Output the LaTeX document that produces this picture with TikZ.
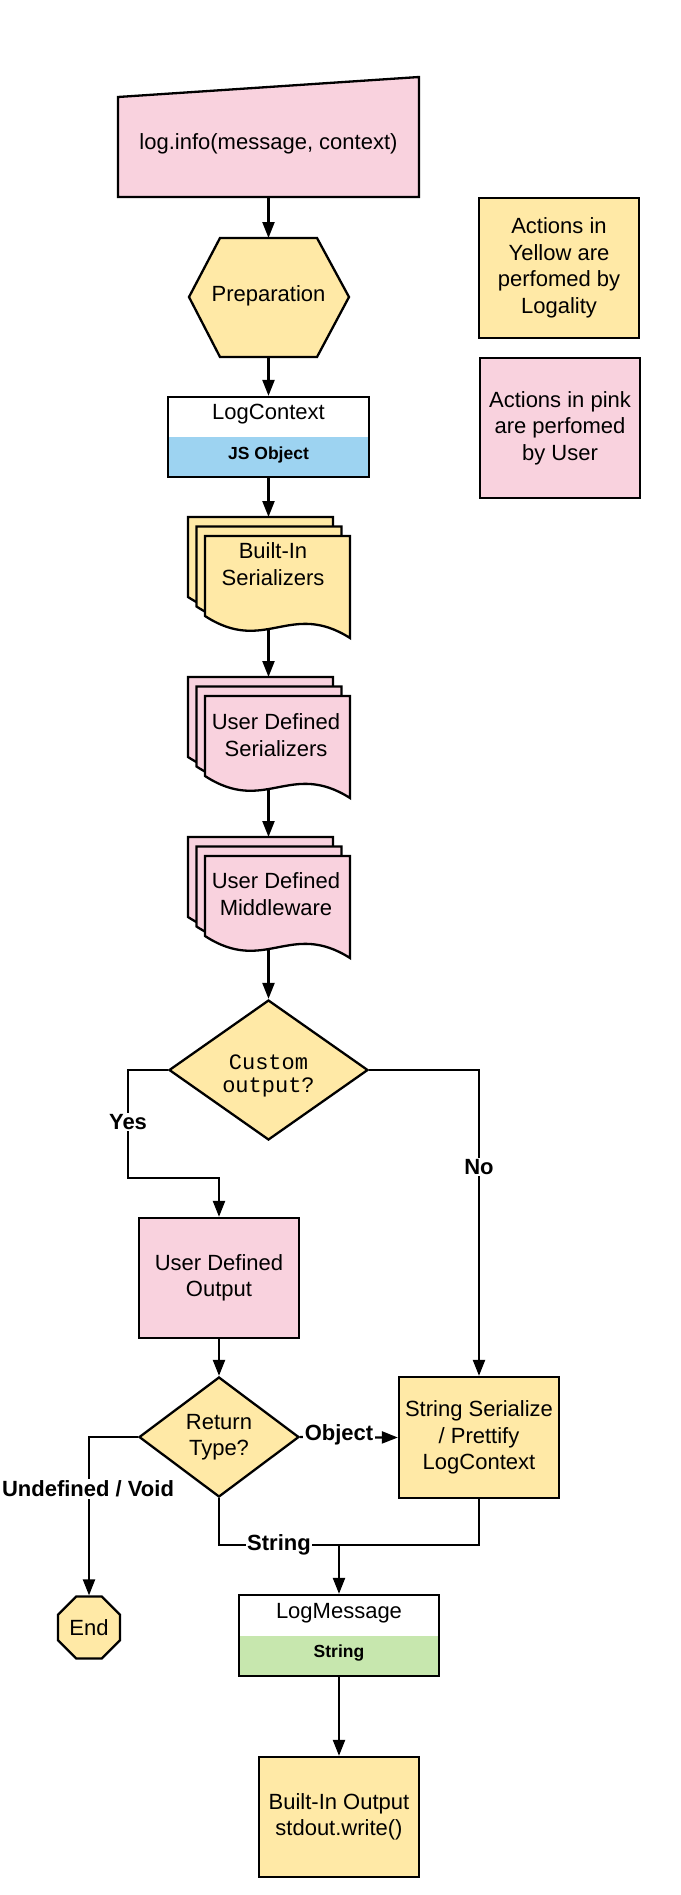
\documentclass[tikz,border=0pt]{standalone}
\usepackage{fontspec}
\setmainfont{Liberation Sans}
\newfontfamily\monof{Liberation Mono}
\usetikzlibrary{arrows.meta,shapes.geometric}
\definecolor{pinkc}{HTML}{F9D2DE}
\definecolor{yelc}{HTML}{FFE9A6}
\definecolor{bluec}{HTML}{9DD3F1}
\definecolor{greenc}{HTML}{C7E7AE}
\tikzset{
  shape line/.style={draw=black, line width=2.3pt, line join=miter},
  conn/.style={line width=2.2pt, -{Triangle[length=16pt,width=12pt]}},
  plain/.style={line width=2.2pt},
  lbl/.style={font=\fontsize{22}{26.5}\selectfont, align=center, inner sep=0pt},
  elbl/.style={font=\fontsize{22}{26.5}\selectfont\bfseries, fill=white, inner sep=1.5pt},
  band/.style={font=\fontsize{17.5}{20}\selectfont\bfseries, inner sep=0pt},
  box/.style={shape line, rectangle, inner sep=0pt, font=\fontsize{22}{26.5}\selectfont, align=center},
  bandbox/.style={box, path picture={\fill[#1] (path picture bounding box.west) rectangle (path picture bounding box.south east);}},
}
\newcommand\docstack[3]{%
  \foreach \d in {0,1,2}{%
    \filldraw[shape line, fill=#3, shift={({#1+8.5*\d},{#2+9.5*\d})}]
      (0,0) -- (145,0) -- (145,102) .. controls (85,64) and (60,119) .. (0,80) -- cycle;
  }%
}
\begin{document}
\begin{tikzpicture}[x=1pt,y=-1pt]
\fill[white] (0,0) rectangle (680,1895);
\useasboundingbox (0,0) rectangle (680,1895);

% manual input
\filldraw[shape line, fill=pinkc] (118,97) -- (419,77) -- (419,197) -- (118,197) -- cycle;
\node[lbl] (inp) at (268.5,144) {log.info(message, context)};
\coordinate (inpB) at (268.5,197);

% preparation hexagon
\filldraw[shape line, fill=yelc] (189,297) -- (220,238) -- (317,238) -- (349,297) -- (317,357) -- (220,357) -- cycle;
\node[lbl] (prep) at (268.5,296) {Preparation};
\coordinate (prepT) at (268.5,238);
\coordinate (prepB) at (268.5,357);

% LogContext
\node[bandbox=bluec, minimum width=201pt, minimum height=80pt] (lc) at (268.5,437) {};
\node[lbl] (lcT) at (268.5,414) {LogContext};
\node[band] (lcB) at (268.5,455) {JS Object};

% stacks
\docstack{188}{517}{yelc}
\node[lbl] (bis) at (273,564) {Built-In\\Serializers};
\coordinate (bisT) at (268.5,517);
\coordinate (bisB) at (268.5,628);

\docstack{188}{677}{pinkc}
\node[lbl] (uds) at (276,735) {User Defined\\Serializers};
\coordinate (udsT) at (268.5,677);
\coordinate (udsB) at (268.5,788);

\docstack{188}{837}{pinkc}
\node[lbl] (mw) at (276,894) {User Defined\\Middleware};
\coordinate (mwT) at (268.5,837);
\coordinate (mwB) at (268.5,948);

% decision custom output
\node[shape line, diamond, fill=yelc, minimum width=199pt, minimum height=140pt, inner sep=0pt] (co) at (268.5,1070) {};
\node[lbl, font=\monof\fontsize{22}{22.5}\selectfont] (coT) at (268.5,1076) {Custom\\output?};

% user defined output
\node[box, fill=pinkc, minimum width=160pt, minimum height=120pt] (udo) at (219,1278) {User Defined\\Output};

% return type
\node[shape line, diamond, fill=yelc, minimum width=160pt, minimum height=120pt, lbl] (rt) at (219,1437) {Return\\Type?};

% string serialize
\node[box, fill=yelc, minimum width=160pt, minimum height=121pt] (ss) at (479,1437.5) {String Serialize\\/ Prettify\\LogContext};

% end
\node[shape line, regular polygon, regular polygon sides=8, minimum size=67pt, fill=yelc, lbl] (end) at (89,1627.5) {End};

% LogMessage
\node[bandbox=greenc, minimum width=200pt, minimum height=81pt] (lm) at (339,1635.5) {};
\node[lbl] (lmT) at (339,1613) {LogMessage};
\node[band] (lmB) at (339,1653) {String};

% built-in output
\node[box, fill=yelc, minimum width=160pt, minimum height=120pt] (bo) at (339,1817) {Built-In Output\\stdout.write()};

% legend
\node[box, fill=yelc, minimum width=160pt, minimum height=140pt] (legY) at (559,268) {Actions in\\Yellow are\\perfomed by\\Logality};
\node[box, fill=pinkc, minimum width=160pt, minimum height=140pt] (legP) at (560,428) {Actions in pink\\are perfomed\\by User};

% connectors
\draw[conn] (inpB) -- (prepT);
\draw[conn] (prepB) -- (lc.north);
\draw[conn] (lc.south) -- (bisT);
\draw[conn] (bisB) -- (udsT);
\draw[conn] (udsB) -- (mwT);
\draw[conn] (mwB) -- (co.north);

\coordinate (yesA) at (128,1178);
\draw[conn] (co.west) -| (yesA) -| (udo.north);
\draw[conn] (co.east) -| (ss.north);
\draw[conn] (udo.south) -- (rt.north);
\draw[conn] (rt.east) -- (ss.west);
\draw[conn] (rt.west) -| (end.north);
\coordinate (strA) at (219,1545);
\draw[plain] (rt.south) -- (strA) -| (ss.south);
\draw[conn] (lm.north |- strA) -- (lm.north);
\draw[conn] (lm.south) -- (bo.north);

% edge labels
\node[elbl] (lyes) at (128,1122) {Yes};
\node[elbl] (lno) at (479,1167) {No};
\node[elbl] (lobj) at (339,1435) {Object};
\node[elbl] (lund) at (88,1489) {Undefined / Void};
\node[elbl] (lstr) at (279,1545) {String};
\end{tikzpicture}
\end{document}
